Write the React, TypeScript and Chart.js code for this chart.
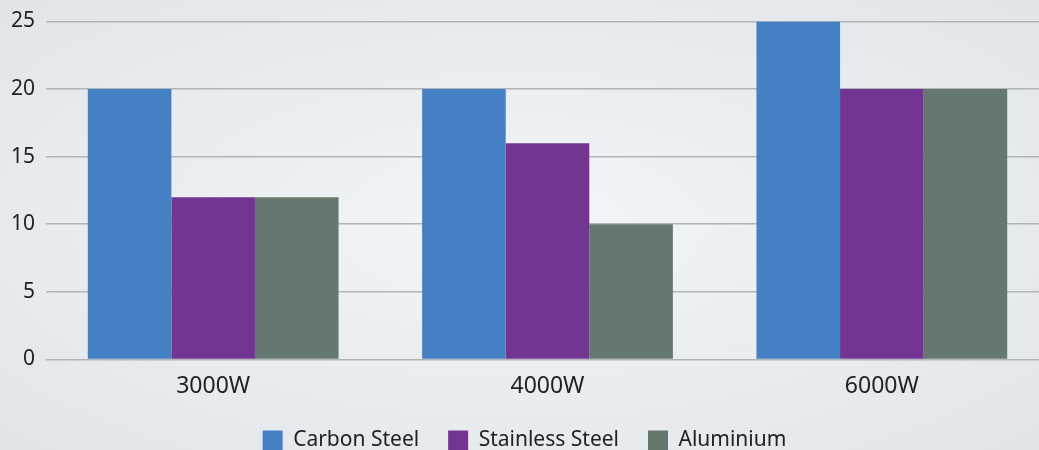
import React, { useEffect, useRef } from "react";
import { Chart, registerables } from "chart.js";

Chart.register(...registerables);

const categories = ["3000W", "4000W", "6000W"];
const carbonSteel = [20, 20, 25];
const stainlessSteel = [12, 16, 20];
const aluminium = [12, 10, 20];
const seriesNames = ["Carbon Steel", "Stainless Steel", "Aluminium"];
const seriesColors = ["#4680C4", "#733592", "#647870"];

export default function App() {
  const ref = useRef<HTMLCanvasElement | null>(null);
  useEffect(() => {
    document.body.style.margin = "0";
    document.body.style.overflow = "hidden";
    const family = "'Noto Sans', sans-serif";
    const chart = new Chart(ref.current!, {
      type: "bar",
      data: {
        labels: categories,
        datasets: [carbonSteel, stainlessSteel, aluminium].map((d, i) => ({
          label: seriesNames[i],
          data: d,
          backgroundColor: seriesColors[i],
          borderWidth: 0,
          categoryPercentage: 0.75,
          barPercentage: 1,
        })),
      },
      options: {
        animation: false,
        responsive: false,
        maintainAspectRatio: false,
        layout: { padding: { top: 6, right: 1, left: 0, bottom: 0 } },
        plugins: {
          tooltip: { enabled: false },
          legend: {
            position: "bottom",
            labels: {
              font: { family, size: 21 },
              color: "#222",
              boxWidth: 20,
              boxHeight: 20,
              padding: 29,
            },
          },
        },
        scales: {
          x: {
            grid: { display: false, drawTicks: false },
            border: { display: false },
            ticks: { font: { family, size: 23 }, color: "#222", padding: 13 },
            afterFit: (s: any) => {
              s.height -= 12;
            },
          },
          y: {
            min: 0,
            max: 25,
            afterFit: (s: any) => {
              s.width = 46;
            },
            ticks: { stepSize: 5, font: { family, size: 21, lineHeight: 1 }, color: "#222", padding: 11 },
            grid: { color: "#b1b4b8", lineWidth: 1.5, drawTicks: false },
            border: { display: false },
          },
        },
      },
    });
    return () => chart.destroy();
  }, []);
  return (
    <div
      style={{
        width: 1039,
        height: 450,
        overflow: "hidden",
        position: "relative",
        background: "radial-gradient(ellipse at 50% 50%, #f4f6f8 0%, #e9ecf0 55%, #e1e5ea 100%)",
      }}
    >
      <canvas ref={ref} width={1050} height={461} style={{ position: "absolute", left: 0, top: 0 }} />
    </div>
  );
}
